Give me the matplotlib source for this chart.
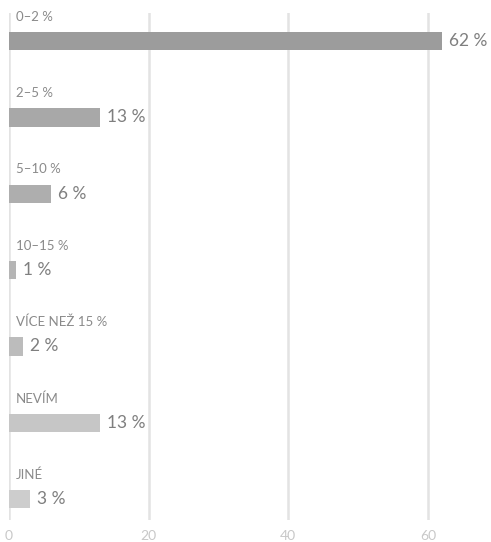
import matplotlib
matplotlib.use("Agg")
import matplotlib.pyplot as plt

categories = ["0–2 %", "2–5 %", "5–10 %", "10–15 %", "VÍCE NEŽ 15 %", "NEVÍM", "JINÉ"]
values = [62, 13, 6, 1, 2, 13, 3]
value_labels = ["62 %", "13 %", "6 %", "1 %", "2 %", "13 %", "3 %"]
bar_colors = ["#9c9c9c", "#a8a8a8", "#aeaeae", "#b5b5b5", "#bcbcbc", "#c6c6c6", "#cdcdcd"]
x_ticks = [0, 20, 40, 60]

W, H = 491, 542
fig = plt.figure(figsize=(W / 100, H / 100), dpi=100)
left, right_px, top, bottom = 9, 484, 13, 520
ax = fig.add_axes([left / W, 1 - bottom / H, (right_px - left) / W, (bottom - top) / H])

font = "Lato"
pos = list(range(len(categories)))
ax.barh(pos, values, height=0.24, color=bar_colors, zorder=3)
ax.set_ylim(len(categories) - 1 + 0.275, -0.367)
ax.set_xlim(0, (right_px - left) / ((428 - 9) / 60))

for i, (v, lab, cat) in enumerate(zip(values, value_labels, categories)):
    ax.annotate(lab, (v, i), xytext=(5, 0), textcoords="offset points",
                va="center", ha="left", fontsize=12.5, color="#7f7f7f", family=font)
    ax.annotate(cat, (0, i), xytext=(5, 17.5), textcoords="offset points",
                va="center", ha="left", fontsize=9.5, color="#8a8a8a", family=font)

ax.set_xticks(x_ticks)
ax.set_xticklabels([str(t) for t in x_ticks], family=font, fontsize=10, color="#c8c8c8")
ax.tick_params(axis="x", length=0, pad=7)
ax.set_yticks([])
ax.grid(axis="x", color="#e3e3e3", linewidth=1.8, zorder=0)
for s in ax.spines.values():
    s.set_visible(False)

fig.savefig("out.png", dpi=100)
